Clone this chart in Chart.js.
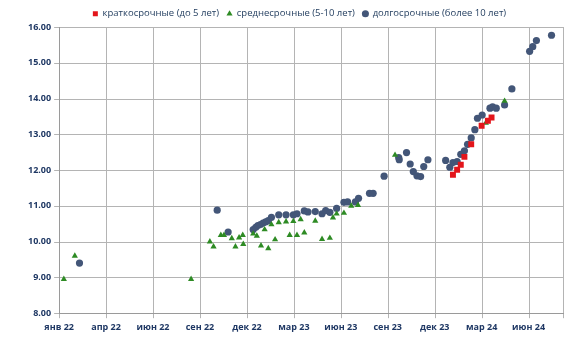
<!DOCTYPE html>
<html>
<head>
<meta charset="utf-8">
<script src="https://cdn.jsdelivr.net/npm/chart.js@4/dist/chart.umd.min.js"></script>
<style>
  html, body { margin: 0; padding: 0; background: #ffffff; }
  #wrap { width: 586px; height: 358px; position: relative; }
</style>
</head>
<body>
<div id="wrap"><canvas id="chart"></canvas></div>
<script>
// Series: placement date and yield (%)
const shortDates = ["2024-01-26", "2024-02-03", "2024-02-10", "2024-02-17", "2024-03-01",
  "2024-03-21", "2024-04-02", "2024-04-09"];
const shortValues = [11.87, 12.01, 12.15, 12.37, 12.72, 13.24, 13.38, 13.47];

const mediumDates = ["2022-01-10", "2022-01-31", "2022-09-11", "2022-10-17", "2022-10-24",
  "2022-11-07", "2022-11-13", "2022-11-28", "2022-12-05", "2022-12-12", "2022-12-19",
  "2022-12-20", "2023-01-08", "2023-01-15", "2023-01-23", "2023-01-30", "2023-02-06",
  "2023-02-12", "2023-02-19", "2023-02-26", "2023-03-12", "2023-03-19", "2023-03-26",
  "2023-04-02", "2023-04-09", "2023-04-16", "2023-05-07", "2023-05-20", "2023-06-04",
  "2023-06-10", "2023-06-17", "2023-07-01", "2023-07-15", "2023-07-28", "2023-10-07",
  "2024-03-29", "2024-05-04"];
const mediumValues = [8.95, 9.6, 8.95, 10.0, 9.86, 10.18, 10.18, 10.09, 9.86, 10.11, 10.18,
  9.93, 10.22, 10.16, 9.89, 10.34, 9.81, 10.48, 10.06, 10.54, 10.56, 10.18, 10.57,
  10.18, 10.62, 10.25, 10.58, 10.07, 10.1, 10.67, 10.78, 10.8, 11.0, 11.02, 12.42,
  13.32, 13.93];

const longDates = ["2022-02-09", "2022-10-31", "2022-11-21", "2023-01-08", "2023-01-13",
  "2023-01-17", "2023-01-22", "2023-01-27", "2023-02-01", "2023-02-06", "2023-02-12",
  "2023-02-26", "2023-03-12", "2023-03-26", "2023-04-02", "2023-04-16", "2023-04-23",
  "2023-05-07", "2023-05-20", "2023-05-27", "2023-06-04", "2023-06-17", "2023-07-01",
  "2023-07-08", "2023-07-23", "2023-07-29", "2023-08-19", "2023-08-26", "2023-09-16",
  "2023-10-14", "2023-10-15", "2023-10-29", "2023-11-05", "2023-11-11", "2023-11-18",
  "2023-11-25", "2023-12-01", "2023-12-09", "2024-01-12", "2024-01-20", "2024-01-26",
  "2024-02-03", "2024-02-10", "2024-02-17", "2024-02-23", "2024-03-01", "2024-03-08",
  "2024-03-13", "2024-03-22", "2024-04-06", "2024-04-11", "2024-04-18", "2024-05-04",
  "2024-05-18", "2024-06-21", "2024-06-27", "2024-07-04", "2024-08-02"];
const longValues = [9.4, 10.88, 10.27, 10.34, 10.4, 10.45, 10.48, 10.52, 10.55, 10.59, 10.68,
  10.75, 10.75, 10.75, 10.78, 10.86, 10.83, 10.84, 10.78, 10.87, 10.82, 10.93, 11.1,
  11.11, 11.11, 11.21, 11.35, 11.35, 11.83, 12.35, 12.29, 12.49, 12.17, 11.96, 11.84,
  11.82, 12.1, 12.29, 12.27, 12.08, 12.21, 12.24, 12.44, 12.54, 12.72, 12.9, 13.13,
  13.45, 13.54, 13.73, 13.77, 13.73, 13.82, 14.27, 15.32, 15.45, 15.62, 15.77];

const seriesLabels = ["краткосрочные (до 5 лет)", "среднесрочные (5-10 лет)", "долгосрочные (более 10 лет)"];
const monthNames = ["янв", "фев", "мар", "апр", "май", "июн", "июл", "авг", "сен", "окт", "ноя", "дек"];

// x axis: days since 1 Jan 2022, labelled every 90 days
const startDate = Date.UTC(2022, 0, 1);
const xStepDays = 90;
const xMaxDays = 966;
const yMin = 8, yMax = 16, yStep = 1;

const DAY = 86400000;
function toDays(s) {
  const [y, m, d] = s.split("-").map(Number);
  return Math.round((Date.UTC(y, m - 1, d) - startDate) / DAY);
}
function toPoints(dates, values) {
  return dates.map((d, i) => ({ x: toDays(d), y: values[i] }));
}
function dayLabel(v) {
  const dt = new Date(startDate + v * DAY);
  return monthNames[dt.getUTCMonth()] + " " + String(dt.getUTCFullYear()).slice(2);
}

const textColor = "#1F3864";
const gridColor = "#B4B4B4";
const axisColor = "#9A9A9A";
const tickMark = 5;

// grid lines and tick marks from both scales' own ticks, painted behind everything
const gridPlugin = {
  id: "gridBehind",
  afterDraw(chart) {
    const { ctx, chartArea: a, scales } = chart;
    const x = scales.x, y = scales.y;
    ctx.save();
    ctx.globalCompositeOperation = "destination-over";
    ctx.strokeStyle = gridColor;
    ctx.lineWidth = 1;
    ctx.setLineDash([]);
    ctx.beginPath();
    x.ticks.forEach((t) => {
      const px = Math.round(x.getPixelForValue(t.value)) + 0.5;
      ctx.moveTo(px, t.value <= x.min ? a.bottom : a.top);
      ctx.lineTo(px, a.bottom + tickMark);
    });
    y.ticks.forEach((t) => {
      const py = Math.round(y.getPixelForValue(t.value)) + 0.5;
      ctx.moveTo(a.left - tickMark, py);
      ctx.lineTo(t.value <= y.min ? a.left : a.right, py);
    });
    ctx.stroke();
    ctx.restore();
  },
};

// nudge the legend a little to the right, as in the original
const legendShift = 8;
const legendShiftPlugin = {
  id: "legendShift",
  afterLayout(chart) {
    chart.legend.left += legendShift;
    chart.legend.right += legendShift;
  },
};

const ctx = document.getElementById("chart").getContext("2d");
new Chart(ctx, {
  type: "scatter",
  data: {
    datasets: [
      {
        label: seriesLabels[0],
        data: toPoints(shortDates, shortValues),
        pointStyle: "rect",
        backgroundColor: "#E3151B",
        borderColor: "#E3151B",
        pointBorderWidth: 0,
        pointRadius: 4.2,
      },
      {
        label: seriesLabels[1],
        data: toPoints(mediumDates, mediumValues),
        pointStyle: "triangle",
        backgroundColor: "#2E8B24",
        borderColor: "#2E8B24",
        pointBorderWidth: 0,
        pointRadius: 3.6,
      },
      {
        label: seriesLabels[2],
        data: toPoints(longDates, longValues),
        pointStyle: "circle",
        backgroundColor: "#435678",
        borderColor: "#435678",
        pointBorderWidth: 0,
        pointRadius: 3.6,
      },
    ],
  },
  plugins: [gridPlugin, legendShiftPlugin],
  options: {
    responsive: true,
    maintainAspectRatio: false,
    animation: false,
    layout: { padding: { left: 20, right: 23, top: 1, bottom: 16 } },
    plugins: {
      tooltip: { enabled: false },
      legend: {
        position: "top",
        maxHeight: 26,
        labels: {
          usePointStyle: true,
          boxWidth: 5,
          boxHeight: 5,
          padding: 8,
          color: "#243F60",
          font: { family: "'Open Sans', sans-serif", size: 9.5 },
        },
      },
    },
    scales: {
      x: {
        type: "linear",
        min: 0,
        max: xMaxDays,
        grid: { display: false, drawTicks: false },
        border: { color: axisColor },
        ticks: {
          stepSize: xStepDays,
          autoSkip: false,
          maxRotation: 0,
          padding: 9,
          color: textColor,
          font: { family: "'Open Sans', sans-serif", size: 9, weight: "bold" },
          callback: (v) => (v % xStepDays === 0 ? dayLabel(v) : ""),
        },
      },
      y: {
        min: yMin,
        max: yMax,
        grid: { display: false, drawTicks: false },
        border: { color: axisColor },
        ticks: {
          stepSize: yStep,
          padding: 8,
          color: textColor,
          font: { family: "'Open Sans', sans-serif", size: 9, weight: "bold" },
          callback: (v) => v.toFixed(2),
        },
      },
    },
  },
});
</script>
</body>
</html>
